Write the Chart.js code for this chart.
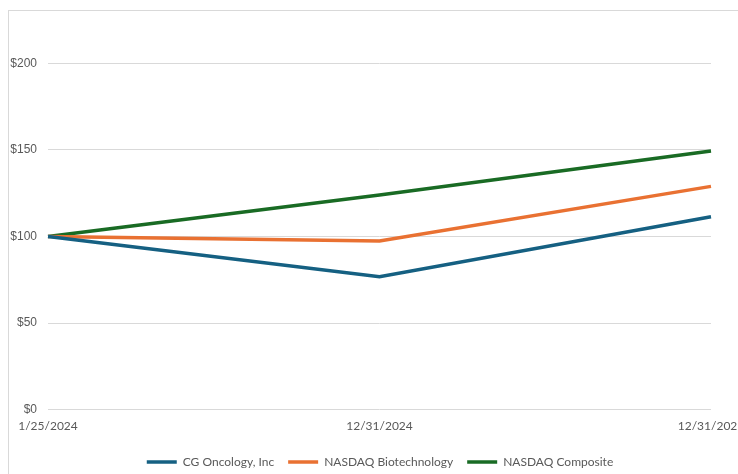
<!DOCTYPE html>
<html>
<head>
<meta charset="utf-8">
<script src="https://cdn.jsdelivr.net/npm/chart.js@4"></script>
<style>
  html, body { margin: 0; padding: 0; background: #fff; overflow: hidden; width: 738px; height: 474px; }
  #frame { position: absolute; left: 8px; top: 10px; width: 800px; height: 500px; border: 1px solid #d9d9d9; }
  #chart { position: absolute; left: 0; top: 0; }
</style>
</head>
<body>
<div id="frame"></div>
<canvas id="chart" width="760" height="474"></canvas>
<script>
  // ================= DATA =================
  const dates = ["1/25/2024", "12/31/2024", "12/31/2025"];
  const cgOncology = [100, 76.7, 111.4];
  const nasdaqBiotech = [100, 97.4, 128.9];
  const nasdaqComposite = [100, 123.9, 149.3];
  const yTicks = [0, 50, 100, 150, 200];

  const grey = "#595959";

  const ctx = document.getElementById("chart").getContext("2d");

  new Chart(ctx, {
    type: "line",
    data: {
      labels: dates,
      datasets: [
        { label: "CG Oncology, Inc", data: cgOncology, borderColor: "#156082", backgroundColor: "#156082", borderWidth: 3.5 },
        { label: "NASDAQ Biotechnology", data: nasdaqBiotech, borderColor: "#E97132", backgroundColor: "#E97132", borderWidth: 3.5 },
        { label: "NASDAQ Composite", data: nasdaqComposite, borderColor: "#196B24", backgroundColor: "#196B24", borderWidth: 3.5 }
      ]
    },
    options: {
      responsive: false,
      animation: false,
      layout: { padding: { left: 0, right: 0, top: 10, bottom: -4 } },
      elements: {
        line: { tension: 0 },
        point: { radius: 0, hoverRadius: 0 }
      },
      scales: {
        x: {
          offset: false,
          grid: { display: false, drawTicks: false },
          border: { display: false },
          ticks: {
            color: grey,
            padding: 9,
            maxRotation: 0,
            autoSkip: false,
            font: { family: "Lato", size: 12 }
          }
        },
        y: {
          min: 0,
          max: 226,
          afterBuildTicks: (scale) => {
            scale.ticks = yTicks.map(v => ({ value: v }));
          },
          afterFit: (scale) => { scale.width = 48; },
          grid: { color: "#d9d9d9", lineWidth: 1, drawTicks: false },
          border: { display: false },
          ticks: {
            color: grey,
            padding: 11,
            font: { family: "Liberation Sans", size: 12 },
            callback: (v) => "$" + v
          }
        },
        // empty right-hand strip so the plot stops where the reference does
        yRight: {
          position: "right",
          grid: { display: false, drawTicks: false },
          border: { display: false },
          ticks: { display: false },
          afterFit: (scale) => { scale.width = 49; }
        }
      },
      plugins: {
        tooltip: { enabled: false },
        legend: {
          position: "bottom",
          labels: {
            usePointStyle: true,
            pointStyle: "line",
            pointStyleWidth: 30,
            boxHeight: 12,
            padding: 14,
            color: grey,
            font: { family: "Lato", size: 12 }
          }
        }
      }
    }
  });
</script>
</body>
</html>
